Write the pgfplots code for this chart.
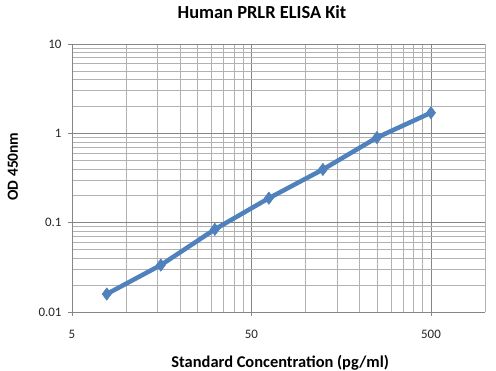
\documentclass[border=0pt]{standalone}
\usepackage{pgfplots}
\pgfplotsset{compat=1.18}
\usepackage{fontspec}
\setmainfont{Carlito}
\definecolor{serblue}{RGB}{79,129,189}
\definecolor{axgray}{RGB}{134,134,134}
\definecolor{mingray}{RGB}{178,178,178}
\begin{document}
\begin{tikzpicture}
\useasboundingbox (0,0) rectangle (496bp,371bp);
\begin{axis}[
  at={(72bp,59bp)}, anchor=south west,
  scale only axis, width=413bp, height=268bp,
  xmode=log, ymode=log,
  xmin=5, xmax=1000, ymin=0.01, ymax=10,
  xtick={5,50,500}, xticklabels={5,50,500},
  minor xtick={10,15,20,25,30,35,40,45,100,150,200,250,300,350,400,450,1000},
  ytick={0.01,0.1,1,10}, yticklabels={0.01,0.1,1,10},
  minor ytick={0.02,0.03,0.04,0.05,0.06,0.07,0.08,0.09,0.2,0.3,0.4,0.5,0.6,0.7,0.8,0.9,2,3,4,5,6,7,8,9},
  axis x line*=bottom, axis y line*=left,
  axis line style={axgray, line width=0.9bp, -},
  tick align=outside,
  major tick length=4bp, minor tick length=0pt,
  tick style={axgray, line width=0.8bp},
  grid=both,
  major grid style={axgray, line width=0.8bp},
  minor grid style={mingray, line width=0.7bp},
  /pgf/number format/assume math mode=true,
  tick label style={font=\fontsize{13}{15}\selectfont, text=black!85},
  xticklabel style={anchor=center, yshift=-18bp},
  yticklabel style={anchor=east, xshift=-3bp},
  title={Human PRLR ELISA Kit},
  title style={font=\fontsize{18.5}{21}\selectfont\bfseries, at={(axis description cs:0.46,1)}, anchor=center, yshift=26bp},
  xlabel={Standard Concentration (pg/ml)},
  xlabel style={font=\fontsize{16.5}{19}\selectfont\bfseries, at={(axis description cs:0.504,0)}, anchor=center, yshift=-51bp},
  ylabel={OD 450nm},
  ylabel style={font=\fontsize{15.5}{18}\selectfont\bfseries, at={(axis description cs:-0.143,0.543)}, anchor=center},
]
\addplot[serblue, line width=4.5bp, mark=diamond*, mark size=6.2bp, mark options={fill=serblue, draw=serblue, line width=0.5bp}]
coordinates {
(7.8125,0.0159)
(15.625,0.0335)
(31.25,0.0842)
(62.5,0.188)
(125,0.394)
(250,0.897)
(500,1.70)
};
\end{axis}
\end{tikzpicture}
\end{document}
